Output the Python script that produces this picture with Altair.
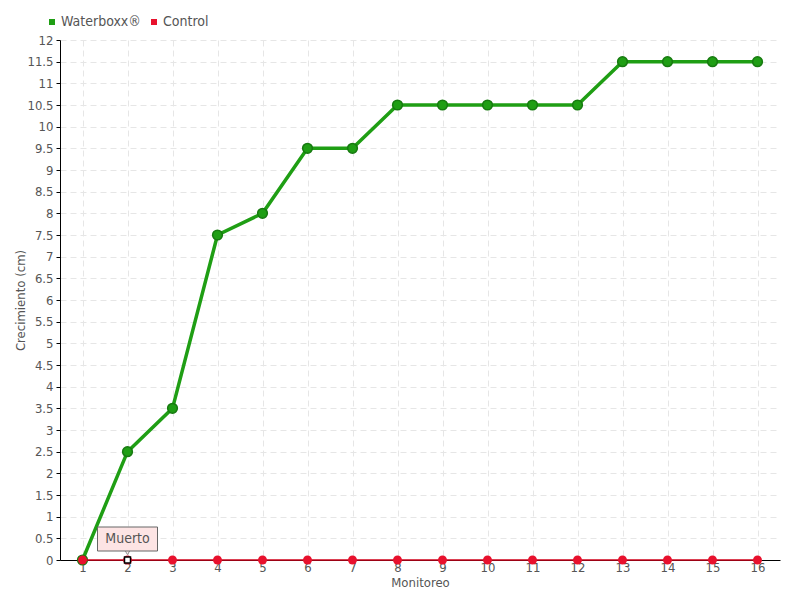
import altair as alt
import pandas as pd

monitoreo = list(range(1, 17))
waterboxx = [0, 2.5, 3.5, 7.5, 8, 9.5, 9.5, 10.5, 10.5, 10.5, 10.5, 10.5, 11.5, 11.5, 11.5, 11.5]
control = [0] * 16
series_names = ["Waterboxx®", "Control"]
series_colors = ["#1f9e14", "#e8112d"]
y_ticks = [i * 0.5 for i in range(25)]
note_x = [2]
note_y = [0]
note_text = ["Muerto"]

FONT = "DejaVu Sans Condensed"

df = pd.DataFrame({
    "Monitoreo": monitoreo * 2,
    "Crecimiento": waterboxx + control,
    "Serie": [series_names[0]] * 16 + [series_names[1]] * 16,
})
wb = df[df.Serie == series_names[0]]
ct = df[df.Serie == series_names[1]]
note = pd.DataFrame({"Monitoreo": note_x, "Crecimiento": note_y, "t": note_text})

xs = alt.X("Monitoreo:Q", scale=alt.Scale(domain=[0.5, 16.5], nice=False, zero=False),
           axis=alt.Axis(values=monitoreo, title="Monitoreo", tickSize=0, labelPadding=1,
                         titlePadding=2, domainColor="#000", gridDash=[6, 4], gridColor="#e6e6e6",
                         zindex=0))
ys = alt.Y("Crecimiento:Q", scale=alt.Scale(domain=[0, 12], nice=False),
           axis=alt.Axis(values=y_ticks, format="~g", title="Crecimiento (cm)", tickSize=4,
                         tickColor="#000", domainColor="#000", gridDash=[6, 4], gridColor="#e6e6e6",
                         titleX=-33, labelPadding=3, zindex=0))
color = alt.Color("Serie:N", scale=alt.Scale(domain=series_names, range=series_colors),
                  legend=alt.Legend(orient="none", legendX=-15, legendY=-25, direction="horizontal",
                                    title=None, symbolType="square", symbolSize=36,
                                    labelFontSize=14, labelColor="#555", labelFont=FONT,
                                    columnPadding=6, labelOffset=2, symbolStrokeWidth=0))

green_line = alt.Chart(wb).mark_line(strokeWidth=3.5).encode(x=xs, y=ys, color=color)
green_pts = alt.Chart(wb).mark_circle(size=95, opacity=1, stroke="#177a10", strokeWidth=1.5).encode(
    x=xs, y=ys, color=alt.Color("Serie:N", scale=alt.Scale(domain=series_names, range=series_colors), legend=None))
red_line = alt.Chart(ct).mark_line(strokeWidth=1.5, color="#d0021b").encode(x=xs, y=ys)
red_pts = alt.Chart(ct).mark_circle(size=80, opacity=1, color="#e8112d").encode(x=xs, y=ys)

box = alt.Chart(note).mark_rect(width=60, height=24, yOffset=-21, fill="#fde4e4", stroke="#666",
                                strokeWidth=1).encode(x=xs, y=ys)
pointer = alt.Chart(note).mark_point(shape="triangle-down", size=40, yOffset=-8, filled=True,
                                     fill="#fde4e4", stroke="#666", strokeWidth=1).encode(x=xs, y=ys)
label = alt.Chart(note).mark_text(yOffset=-21, font=FONT, fontSize=14, color="#555").encode(
    x=xs, y=ys, text="t:N")
marker = alt.Chart(note).mark_square(size=36, fill="white", stroke="black", strokeWidth=1.5,
                                     opacity=1).encode(x=xs, y=ys)

chart = alt.layer(green_line, green_pts, red_line, red_pts, pointer, box, label, marker).properties(
    width=720, height=520,
    autosize=alt.AutoSizeParams(type="none"),
    padding={"left": 52, "top": 32, "right": 12, "bottom": 32},
).configure_view(stroke=None).configure_axis(
    labelFont=FONT, titleFont=FONT, labelFontSize=13, titleFontSize=13,
    labelColor="#555", titleColor="#555", titleFontWeight="normal"
)

chart.save("out.html", embed_options={"renderer": "svg", "actions": False})
